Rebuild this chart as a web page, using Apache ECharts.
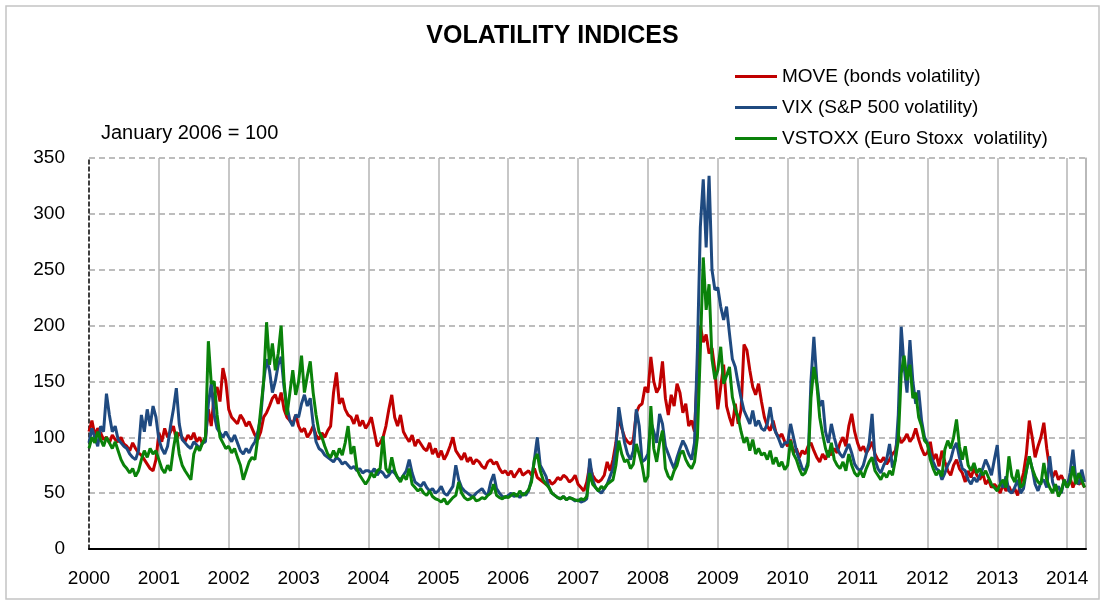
<!DOCTYPE html>
<html>
<head>
<meta charset="utf-8">
<script src="https://cdn.jsdelivr.net/npm/echarts@6/dist/echarts.min.js"></script>
<style>
  html,body{margin:0;padding:0;background:#fff;}
  #chart{width:1105px;height:606px;}
</style>
</head>
<body>
<div id="chart"></div>
<script>
// semi-monthly readings (1st and 16th of each month), Jan 2000 .. Apr 2014
var firstYear = 2000;

// MOVE (bonds volatility)
var move = [
  105,115,102,108,104,98,100,95,102,98,96,100,94,92,88,95,90,86,84,80,76,72,70,80,
  104,96,108,100,105,110,98,104,100,96,102,98,104,96,100,94,100,125,110,138,145,132,162,150,
  125,118,115,112,120,116,110,114,108,102,98,105,118,122,128,135,138,130,140,125,118,115,112,120,
  110,105,108,100,104,110,102,98,104,100,106,110,140,158,130,135,125,120,118,112,120,110,115,108,
  112,118,105,92,95,100,110,125,138,118,110,120,105,100,96,102,92,98,94,90,88,95,85,90,
  82,88,80,85,92,100,88,84,80,86,78,82,76,80,78,74,72,78,80,76,78,72,68,70,
  66,70,64,68,72,66,68,70,66,72,64,62,60,58,62,58,60,64,62,66,64,60,62,66,
  58,55,52,60,75,66,62,60,62,66,78,70,80,95,118,108,100,96,94,98,122,128,130,145,
  140,172,150,140,145,168,135,120,138,128,148,140,122,130,110,115,105,160,200,185,192,175,180,160,
  125,145,165,128,118,110,130,112,125,183,178,160,145,138,148,132,118,110,106,115,104,100,103,96,
  92,98,86,90,82,88,85,92,95,88,82,78,85,80,88,84,90,86,95,100,92,110,121,105,
  95,88,92,86,90,96,85,80,78,82,76,80,85,88,102,95,98,103,96,100,108,98,90,84,
  86,96,80,85,74,88,78,70,66,75,80,72,68,60,70,64,72,66,62,68,58,62,55,58,
  55,50,58,52,56,50,54,48,58,68,85,115,100,82,92,100,113,90,72,64,70,62,66,60,
  58,64,55,62,58,60,55
];

// VIX (S&P 500 volatility)
var vix = [
  95,108,100,92,110,105,139,120,105,110,98,95,92,90,85,82,80,88,120,105,125,110,128,118,
  98,90,85,92,110,125,144,112,98,95,92,90,96,93,90,95,96,130,148,120,108,104,100,105,
  100,96,102,95,88,85,90,86,92,96,105,118,150,170,160,140,150,165,172,145,128,115,110,120,
  118,130,138,128,135,112,96,90,88,84,82,80,78,82,80,76,78,75,72,74,70,72,68,70,
  70,68,72,66,70,68,64,66,70,68,64,62,66,70,80,68,60,58,56,60,55,52,54,50,
  52,56,50,48,52,56,75,62,55,52,50,48,47,50,52,54,50,48,60,67,54,50,47,46,
  48,50,47,49,46,50,48,52,62,80,100,75,70,65,55,50,48,46,45,47,44,46,45,43,
  44,42,43,45,81,62,55,52,50,54,58,65,72,90,127,110,95,85,80,88,125,110,78,80,
  85,114,105,95,121,112,92,85,78,72,82,90,97,92,85,80,95,178,288,331,270,334,250,232,
  234,217,205,217,193,170,163,148,135,124,118,112,124,110,115,108,106,112,127,110,104,98,91,95,
  95,112,100,88,80,72,70,78,150,190,151,128,133,105,95,112,100,90,85,82,88,94,86,76,
  72,70,75,85,95,121,80,72,68,75,80,94,73,80,120,199,163,140,187,150,130,142,115,100,
  95,85,78,72,70,62,68,75,80,90,95,82,72,70,62,58,64,60,66,72,80,74,66,80,
  93,60,55,65,52,50,55,62,50,54,70,83,72,58,52,60,62,55,83,60,52,56,50,62,
  55,68,89,62,58,71,60
];

// VSTOXX (Euro Stoxx volatility)
var vstoxx = [
  90,100,95,105,98,92,100,95,90,96,88,80,75,72,68,72,65,70,80,88,82,90,85,88,
  80,72,68,75,70,90,105,85,75,70,66,62,85,92,88,95,100,186,148,150,120,100,95,90,
  92,86,90,82,75,62,70,78,82,80,100,125,150,203,165,184,160,175,200,150,120,140,160,138,
  150,173,140,155,168,140,120,105,100,92,85,82,88,82,90,84,95,110,85,92,72,66,62,58,
  62,68,64,70,72,101,72,68,82,70,64,60,66,62,72,58,55,52,54,50,48,52,47,45,
  44,42,45,40,43,46,48,60,50,46,44,45,47,43,44,46,45,48,50,58,48,46,45,47,
  46,48,50,47,52,48,50,53,60,80,85,70,62,58,55,50,48,46,45,47,44,46,45,44,
  43,45,44,47,68,58,55,52,56,54,58,60,62,75,97,85,78,80,72,76,94,85,75,60,
  65,128,90,78,95,106,72,65,62,70,75,85,88,80,75,72,78,100,178,261,214,237,170,152,
  160,181,148,155,163,136,125,118,105,95,100,88,98,85,90,84,86,80,88,76,82,74,78,71,
  75,97,85,80,72,66,68,75,135,163,148,118,103,90,82,95,80,75,72,78,70,85,75,68,
  65,70,64,72,78,82,70,66,62,68,64,70,66,80,97,157,173,151,165,135,140,118,110,97,
  94,80,72,66,70,65,89,97,90,100,116,92,80,92,75,70,77,68,72,66,70,64,58,55,
  52,58,62,55,83,65,60,71,55,58,70,83,72,65,60,58,77,62,55,50,58,47,52,62,
  55,60,74,58,68,62,55
];

var seriesNames = ['MOVE (bonds volatility)', 'VIX (S&P 500 volatility)', 'VSTOXX (Euro Stoxx  volatility)'];
var seriesColors = ['#c00000', '#1f4a80', '#0a820a'];

var FONT = "'Liberation Sans', Arial, sans-serif";

// x position of each reading, as a fractional year
function withDates(vals){
  var out = [];
  for (var i = 0; i < vals.length; i++) {
    out.push([firstYear + i / 24, vals[i]]);
  }
  return out;
}

var allData = [move, vix, vstoxx];
var series = [];
for (var s = 0; s < allData.length; s++) {
  series.push({
    name: seriesNames[s],
    type: 'line',
    data: withDates(allData[s]),
    showSymbol: false,
    symbol: 'none',
    lineStyle: { color: seriesColors[s], width: 3 },
    itemStyle: { color: seriesColors[s] },
    z: 3 + s
  });
}

var chart = echarts.init(document.getElementById('chart'));
chart.setOption({
  animation: false,
  backgroundColor: '#fff',
  title: {
    text: 'VOLATILITY INDICES',
    left: 'center',
    top: 19,
    textStyle: { fontFamily: FONT, fontSize: 25, fontWeight: 'bold', color: '#000' }
  },
  legend: {
    orient: 'vertical',
    left: 735,
    top: 67,
    padding: 0,
    itemWidth: 42,
    itemHeight: 3,
    itemGap: 12,
    icon: 'rect',
    textStyle: { fontFamily: FONT, fontSize: 19, color: '#000' },
    data: seriesNames
  },
  graphic: [
    {
      type: 'rect',
      shape: { x: 6, y: 6, width: 1093, height: 593 },
      style: { fill: 'none', stroke: '#c4c4c4', lineWidth: 1.5 },
      silent: true
    },
    {
      type: 'text',
      x: 101,
      y: 133,
      style: {
        text: 'January 2006 = 100',
        font: '20px ' + FONT,
        fill: '#000',
        verticalAlign: 'middle'
      }
    }
  ],
  grid: { left: 89, right: 19, top: 158, bottom: 57 },
  xAxis: {
    type: 'value',
    min: 2000,
    max: 2014.27,
    interval: 1,
    axisLine: { show: true, lineStyle: { color: '#000', width: 2 } },
    axisTick: { show: false },
    axisLabel: {
      margin: 20,
      fontFamily: FONT,
      fontSize: 19,
      color: '#000',
      showMaxLabel: false,
      formatter: function (v) { return String(Math.round(v)); }
    },
    splitLine: { show: true, showMinLine: false, lineStyle: { color: '#b4b4b4', width: 1.5 } }
  },
  yAxis: [
    {
      type: 'value',
      min: 0,
      max: 350,
      interval: 50,
      axisLine: { show: true, lineStyle: { color: '#000', width: 1.5, type: [4, 3] } },
      axisTick: { show: false },
      axisLabel: { margin: 24, fontFamily: FONT, fontSize: 19, color: '#000' },
      splitLine: { show: true, lineStyle: { color: '#a8a8a8', width: 1.5, type: [6, 4] } }
    },
    {
      type: 'value',
      position: 'right',
      min: 0,
      max: 350,
      interval: 50,
      axisLine: { show: true, lineStyle: { color: '#b4b4b4', width: 1.5 } },
      axisTick: { show: false },
      axisLabel: { show: false },
      splitLine: { show: false }
    }
  ],
  series: series
});
</script>
</body>
</html>
